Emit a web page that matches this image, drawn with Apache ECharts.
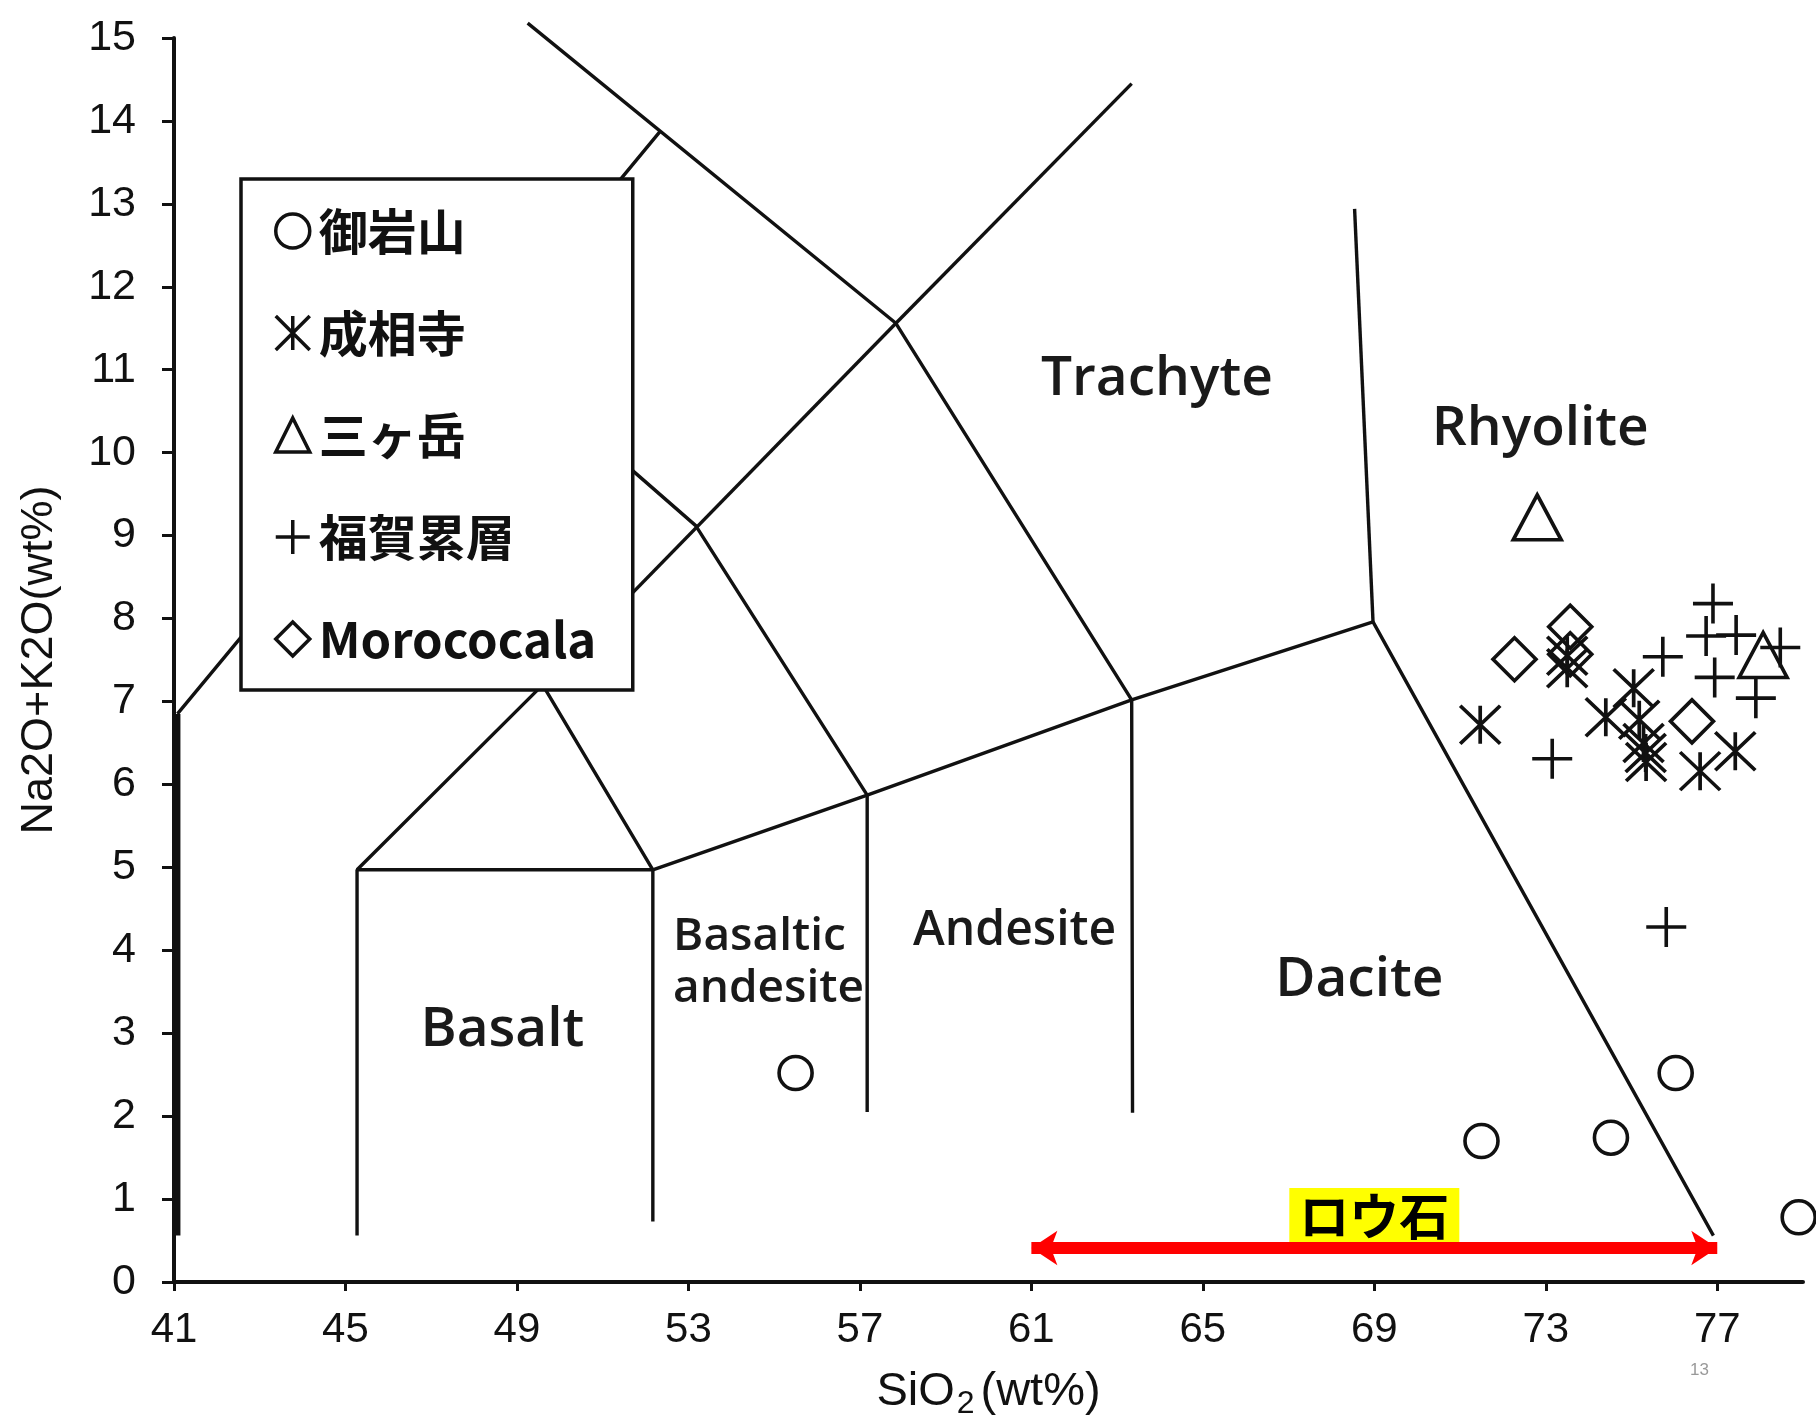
<!DOCTYPE html>
<html>
<head>
<meta charset="utf-8">
<script src="https://cdn.jsdelivr.net/npm/echarts@6/dist/echarts.min.js"></script>
<style>
html,body{margin:0;padding:0;background:#fff;}
#chart{width:1816px;height:1425px;}
</style>
</head>
<body>
<div id="chart"></div>
<script>
// ---------- data ----------
const xTicks = [41, 45, 49, 53, 57, 61, 65, 69, 73, 77];
const yTicks = [0, 1, 2, 3, 4, 5, 6, 7, 8, 9, 10, 11, 12, 13, 14, 15];
const seriesNames = ['御岩山', '成相寺', '三ヶ岳', '福賀累層', 'Morococala'];

const oiwasan = [[55.5, 2.52], [71.5, 1.7], [74.52, 1.74], [76.03, 2.52], [78.9, 0.78]];
const jousouji = [[71.47, 6.72], [73.5, 7.55], [73.5, 7.4], [74.4, 6.81], [75.05, 7.16], [75.18, 6.78],
                  [75.28, 6.5], [75.33, 6.38], [75.34, 6.27], [76.6, 6.16], [77.42, 6.4]];
const mikatake = [[72.8, 9.22], [78.07, 7.56]];
const fukaga = [[76.9, 8.18], [76.74, 7.79], [77.44, 7.8], [75.73, 7.54], [76.94, 7.29], [78.47, 7.65],
                [77.9, 7.04], [73.15, 6.31], [75.81, 4.28]];
const morococala = [[72.27, 7.51], [73.57, 7.9], [73.57, 7.57], [76.41, 6.76]];

// TAS classification boundaries (SiO2, Na2O+K2O)
const tasLeftEdge = [[41.08, 0.56], [41.08, 6.85]];
const tasBoundaries = [
  [[41.08, 6.85], [48.27, 11.33], [52.35, 13.88]],
  [[49.25, 15.18], [57.84, 11.56], [63.34, 7.02], [63.36, 2.04]],
  [[57.84, 11.56], [63.34, 14.45]],
  [[49.6, 7.2], [57.84, 11.56]],
  [[48.27, 11.33], [53.17, 9.12], [57.17, 5.87], [57.17, 2.05]],
  [[45.27, 0.56], [45.27, 4.97], [52.17, 4.97], [52.17, 0.73]],
  [[45.27, 4.97], [49.6, 7.2], [52.17, 4.97]],
  [[52.17, 4.97], [57.17, 5.87], [63.34, 7.02], [68.97, 7.96], [76.91, 0.56]],
  [[68.54, 12.94], [68.97, 7.96]]
];

// field names with their anchor point (SiO2, Na2O+K2O)
const regionLabels = [
  ['Trachyte', 63.93, 10.89],
  ['Rhyolite', 72.87, 10.28],
  ['Andesite', 60.61, 4.23],
  ['Dacite', 68.65, 3.64],
  ['Basalt', 48.66, 3.04],
  ['Basaltic\nandesite', 52.63, 3.85]
];

const rousekiLabel = 'ロウ石';
const rousekiRange = [[61, 0.41], [77, 0.41]];

// ---------- chart ----------
const INK = '#111';
const chart = echarts.init(document.getElementById('chart'), null, {renderer: 'canvas'});

const symbols = [
  'circle',
  'path://M0,0L20,20M20,0L0,20M10,0L10,20',
  'triangle',
  'path://M10,0L10,20M0,10L20,10',
  'diamond'
];
const symbolSizes = [33, [40, 38], [48, 45], 40, 43];
const pointSets = [oiwasan, jousouji, mikatake, fukaga, morococala];

const boundarySeries = [];
boundarySeries.push({
  type: 'line', data: tasLeftEdge, showSymbol: false, symbol: 'none', clip: false, silent: true,
  lineStyle: {color: INK, width: 6}, z: 3
});
tasBoundaries.forEach(pts => boundarySeries.push({
  type: 'line', data: pts, showSymbol: false, symbol: 'none', clip: false, silent: true,
  lineStyle: {color: INK, width: 3.4}, z: 3
}));

const scatterSeries = seriesNames.map((name, i) => ({
  type: 'scatter', name: name, data: pointSets[i], symbol: symbols[i], symbolSize: symbolSizes[i],
  clip: false, silent: true,
  itemStyle: {color: 'rgba(0,0,0,0)', borderColor: INK, borderWidth: 3.6, opacity: 1},
  z: 4
}));

const labelSizes = {Trachyte: 55, Rhyolite: 55, Andesite: 48, Dacite: 55, Basalt: 55};
const labelSeries = {
  type: 'scatter', silent: true, symbol: 'circle', symbolSize: 1, clip: false,
  itemStyle: {color: 'rgba(0,0,0,0)', opacity: 1},
  data: regionLabels.map(([t, x, y]) => {
    const item = {value: [x, y], name: t};
    if (t.indexOf('\n') >= 0) {
      item.label = {position: 'right', distance: 0, align: 'left', fontSize: 46, lineHeight: 52};
    } else {
      item.label = {fontSize: labelSizes[t]};
    }
    return item;
  }),
  label: {
    show: true, position: 'inside', formatter: '{b}', opacity: 1,
    fontFamily: '"Open Sans", "Noto Sans", sans-serif', fontWeight: 600, color: '#1a1a1a', fontSize: 55
  },
  z: 4
};

const arrowSeries = {
  type: 'lines', coordinateSystem: 'cartesian2d', silent: true,
  data: [{coords: rousekiRange, name: rousekiLabel}],
  symbol: ['arrow', 'arrow'], symbolSize: 26,
  lineStyle: {color: '#ff0000', width: 12, opacity: 1, curveness: 0},
  label: {
    show: true, position: 'middle', formatter: '{b}', distance: 6,
    fontFamily: '"Noto Sans CJK JP", sans-serif', fontWeight: 'bold', fontSize: 50, lineHeight: 52,
    color: '#000', backgroundColor: '#ffff00', padding: [2, 10, 0, 10]
  },
  z: 5
};

const option = {
  animation: false,
  backgroundColor: '#fff',
  grid: {left: 174, right: 13, top: 38, bottom: 142, containLabel: false},
  xAxis: {
    type: 'value', min: 41, max: 79, interval: 4,
    axisLine: {show: true, onZero: false, lineStyle: {color: INK, width: 4}},
    axisTick: {show: true, length: 9, customValues: xTicks, lineStyle: {color: INK, width: 3}},
    axisLabel: {
      customValues: xTicks, margin: 27,
      fontFamily: '"Liberation Sans Narrow", "Liberation Sans", sans-serif', fontSize: 42, color: INK
    },
    splitLine: {show: false},
    name: '{a|SiO}{b|2}{a|(wt%)}', nameLocation: 'middle', nameGap: 82,
    nameTextStyle: {
      rich: {
        a: {fontFamily: '"Liberation Sans", sans-serif', fontSize: 47, lineHeight: 56, color: INK},
        b: {fontFamily: '"Liberation Sans", sans-serif', fontSize: 32, lineHeight: 56, color: INK,
            verticalAlign: 'bottom', padding: [0, 6, 0, 2]}
      }
    }
  },
  yAxis: {
    type: 'value', min: 0, max: 15, interval: 1,
    axisLine: {show: true, onZero: false, lineStyle: {color: INK, width: 4}},
    axisTick: {show: true, length: 12, customValues: yTicks, lineStyle: {color: INK, width: 3}},
    axisLabel: {
      customValues: yTicks, margin: 38,
      fontFamily: '"Liberation Sans Narrow", "Liberation Sans", sans-serif', fontSize: 43, color: INK
    },
    splitLine: {show: false},
    name: 'Na2O+K2O(wt%)', nameLocation: 'middle', nameRotate: 90, nameGap: 112,
    nameTextStyle: {fontFamily: '"Liberation Sans", sans-serif', fontSize: 45, color: INK}
  },
  legend: {
    data: seriesNames, orient: 'vertical', left: 241, top: 179,
    padding: [27, 28, 26, 33], itemGap: 52, itemWidth: 34, itemHeight: 34,
    backgroundColor: '#fff', borderColor: INK, borderWidth: 3.5, borderRadius: 0,
    selectedMode: false,
    itemStyle: {borderWidth: 3.5, opacity: 1},
    textStyle: {
      fontFamily: '"Noto Sans CJK JP", sans-serif', fontWeight: 'bold', fontSize: 49, lineHeight: 50,
      color: INK, width: 286, padding: [0, 0, 0, 4]
    },
    z: 10
  },
  graphic: [{
    type: 'text', left: 1690, top: 1362, silent: true,
    style: {text: '13', fontSize: 17, fill: '#999', fontFamily: '"Liberation Sans", sans-serif'}
  }],
  series: [].concat(boundarySeries, [labelSeries], scatterSeries, [arrowSeries])
};
chart.setOption(option);
</script>
</body>
</html>
